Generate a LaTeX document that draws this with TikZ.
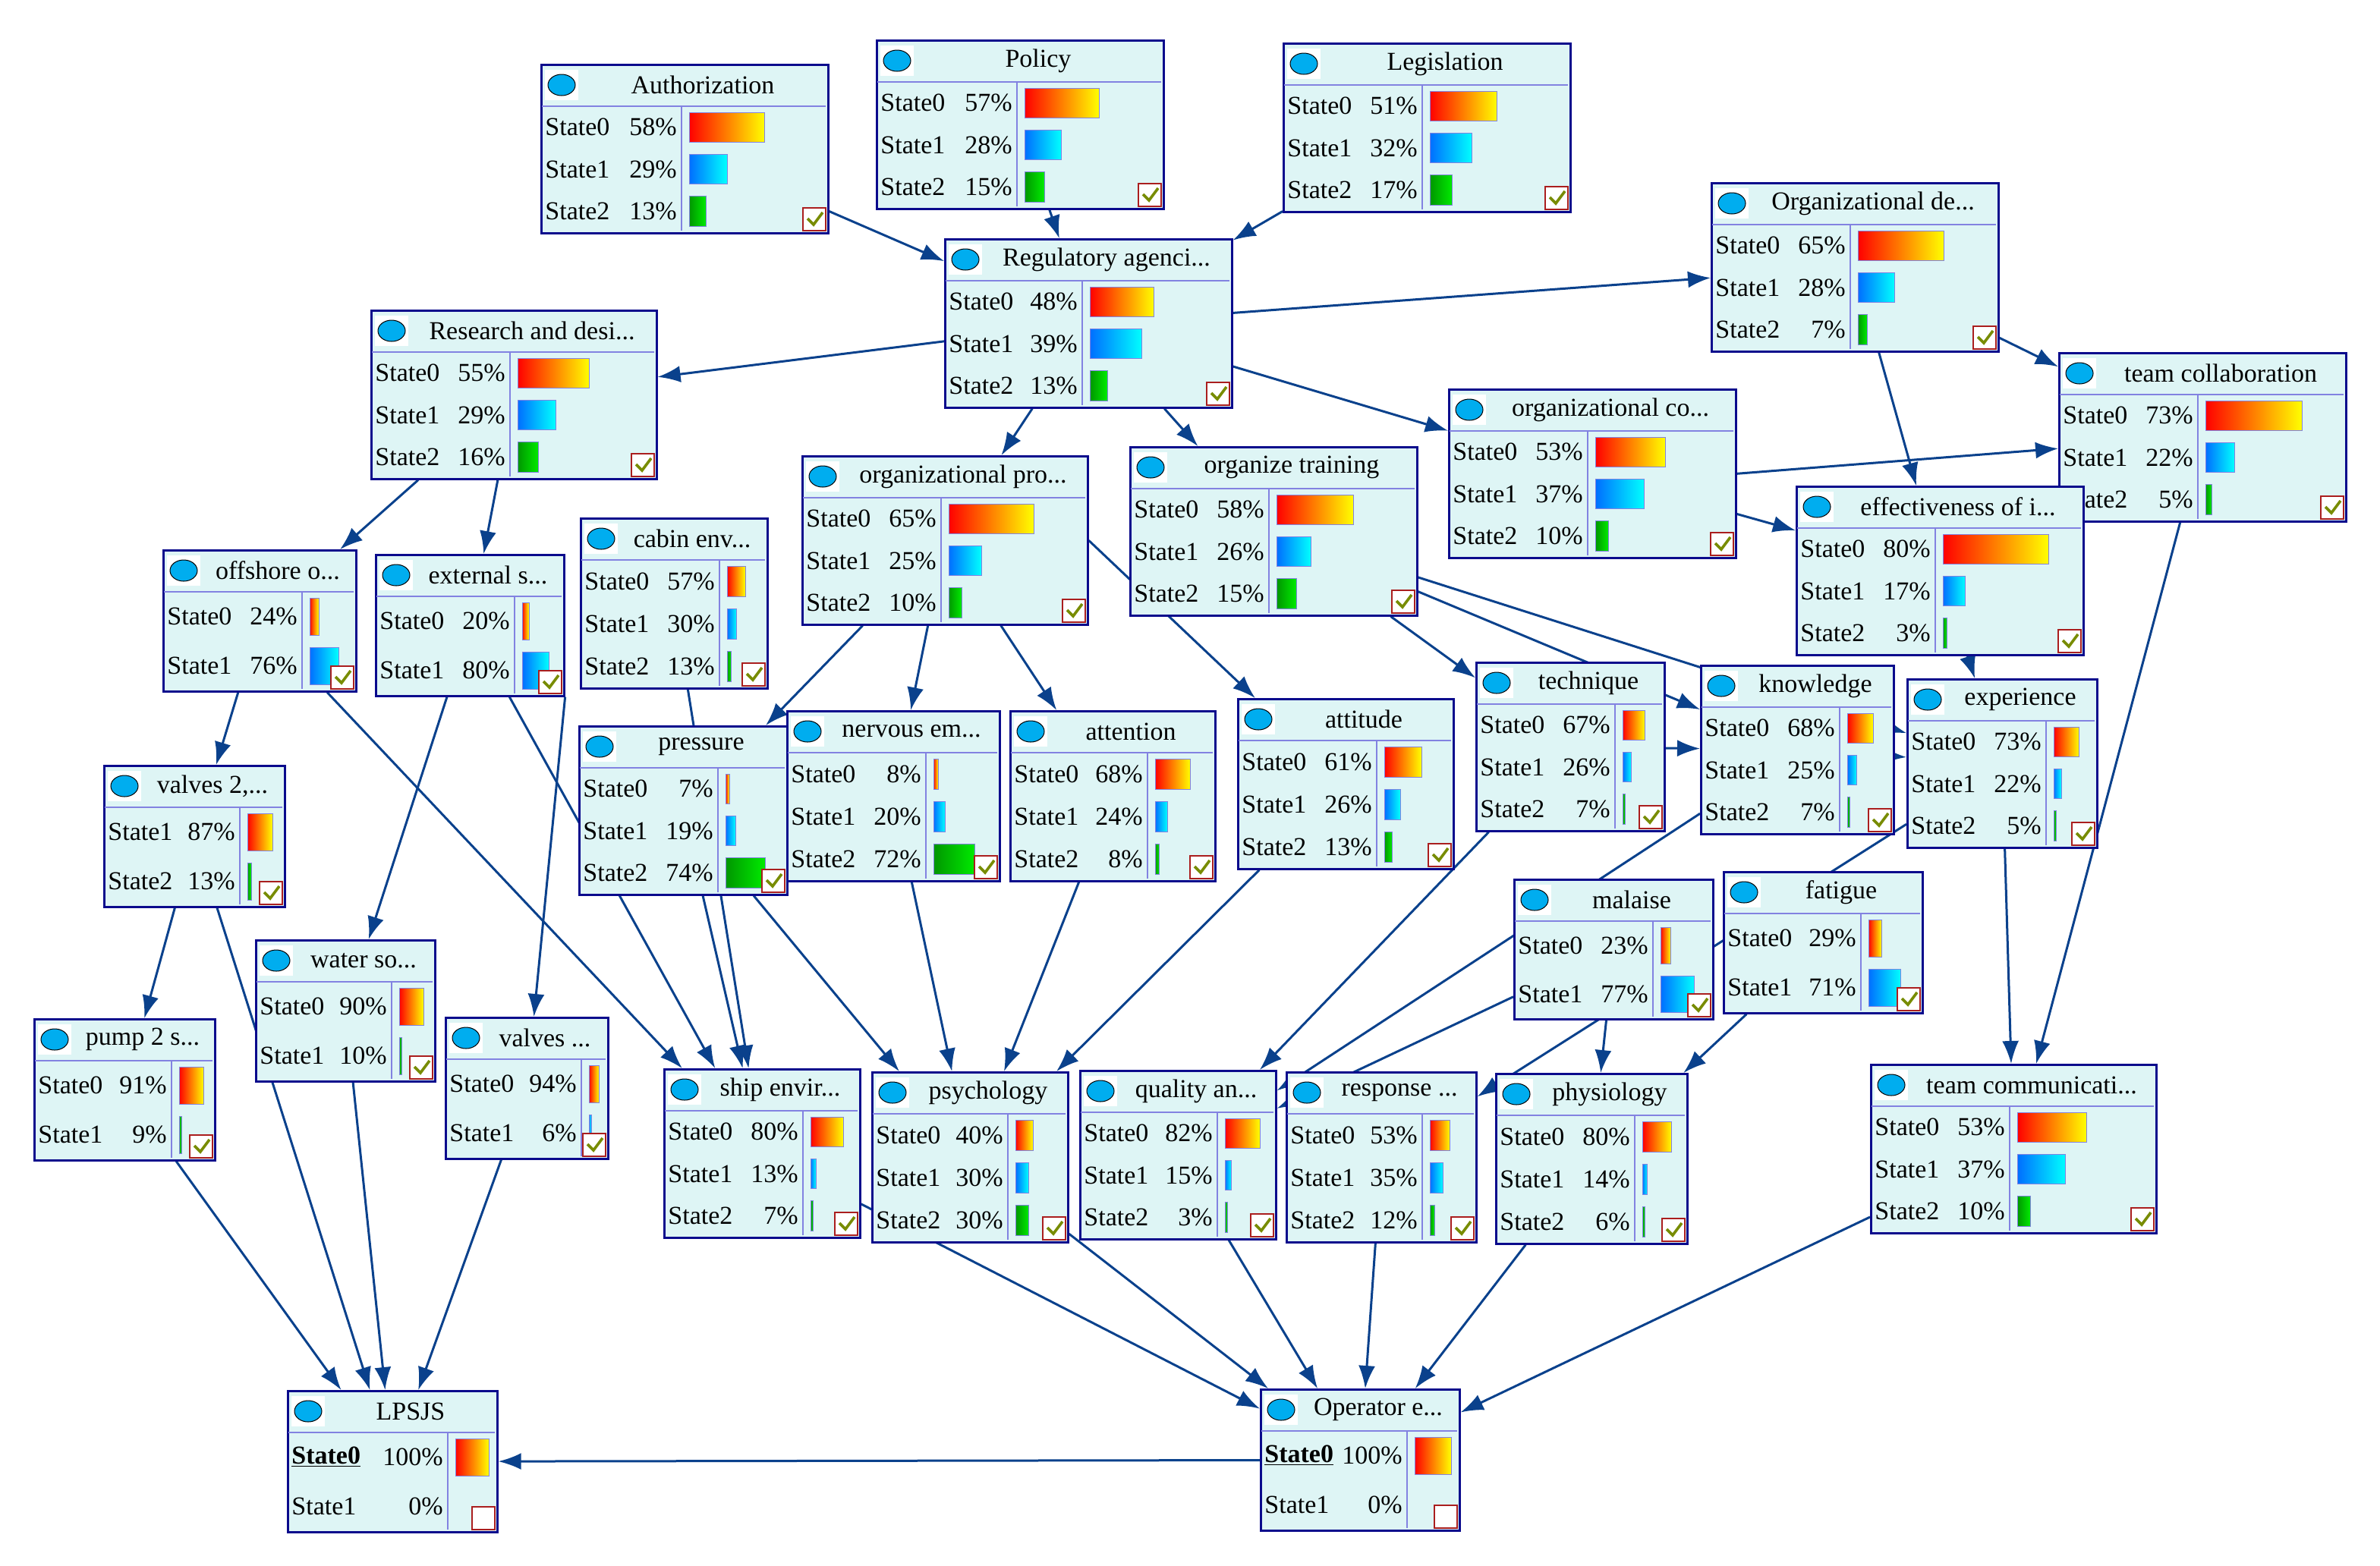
\documentclass[tikz,border=0pt]{standalone}
\usepackage{fontspec}
\setmainfont{Liberation Serif}
\usetikzlibrary{arrows.meta}
\pgfdeclarelayer{background}
\pgfsetlayers{background,main}
\definecolor{bg}{RGB}{222,245,245}
\definecolor{bd}{RGB}{10,10,140}
\definecolor{inn}{RGB}{130,130,225}
\definecolor{ec}{RGB}{10,65,140}
\definecolor{gA}{RGB}{0,150,0}
\definecolor{gB}{RGB}{0,235,0}
\definecolor{bA}{RGB}{0,110,255}
\definecolor{chk}{RGB}{120,140,0}
\definecolor{cbx}{RGB}{170,30,30}
\tikzset{
 box/.style={draw=bd,fill=bg,line width=1.3pt,inner sep=0pt},
 inner/.style={draw=inn,line width=0.6pt},
 ttl/.style={font=\fontsize{17}{19}\selectfont,inner sep=0pt},
 st/.style={font=\fontsize{17}{19}\selectfont,inner sep=0pt},
 bar0/.style={left color=red,right color=yellow,draw=inn,line width=0.3pt},
 bar1/.style={left color=bA,right color=cyan,draw=inn,line width=0.3pt},
 bar2/.style={left color=gA,right color=gB,draw=inn,line width=0.3pt},
 edge/.style={draw=ec,line width=1.5pt,-{Latex[length=15pt,width=11pt]}},
}
\newcommand\bn[9]{%
 \pgfmathsetmacro\W{#4-#2}\pgfmathsetmacro\H{#5-#3}%
 \node[box,minimum width=\W pt,minimum height=\H pt,anchor=north west] (#1) at (#2,#3) {};
 \draw[inner] (#2+1,#3+28) -- (#4-1,#3+28);
 \draw[inner] (#6,#3+28) -- (#6,#5-1);
 \fill[white] (#2+3,#3+4) rectangle (#2+25,#3+24);
 \filldraw[fill=cyan,draw=black,line width=0.5pt] (#2+14,#3+14) ellipse (9 and 7);
 \node[ttl] at ({(#2+25+#4)/2},#3+14) {#7};
 \def\N{0}\foreach \a in {#8}{\xdef\N{\the\numexpr\N+1}}%
 \pgfmathsetmacro\rh{(#5-#3-28)/\N}%
 \foreach[count=\i] \lab/\p/\cc in {#8}{%
  \pgfmathsetmacro\yc{#3+28+(\i-0.5)*\rh}%
  \node[st,anchor=west] at (#2+3,\yc) {\lab};
  \node[st,anchor=east] at (#6-3,\yc) {\p\%};
  \ifdim\p pt>0pt
   \pgfmathsetmacro\bw{max(\p/100*(#4-#6-10),1.5)}%
   \edef\xx{\noexpand\path[bar\cc]}\xx (#6+5,\yc-\rh/2+4) rectangle ++(\bw,\rh-8);
  \fi
 }
 \draw[draw=cbx,fill=white,line width=1pt] (#4-16,#5-16) rectangle (#4-1,#5-1);
 \ifnum#9=1 \draw[draw=chk,line width=1.8pt] (#4-13,#5-9) -- (#4-9,#5-5) -- (#4-3,#5-13);\fi
}
\begin{document}
\begin{tikzpicture}[x=1pt,y=-1pt]
\useasboundingbox (0,0) rectangle (1568,1031.5);
\bn{auth}{356}{42}{545}{153}{449}{Authorization}{State0/58/0,State1/29/1,State2/13/2}{1}
\bn{pol}{577}{26}{766}{137}{670}{Policy}{State0/57/0,State1/28/1,State2/15/2}{1}
\bn{leg}{845}{28}{1034}{139}{937}{Legislation}{State0/51/0,State1/32/1,State2/17/2}{1}
\bn{reg}{622}{157}{811}{268}{713}{Regulatory agenci...}{State0/48/0,State1/39/1,State2/13/2}{1}
\bn{orgde}{1127}{120}{1316}{231}{1219}{Organizational de...}{State0/65/0,State1/28/1,State2/7/2}{1}
\bn{rnd}{244}{204}{432}{315}{336}{Research and desi...}{State0/55/0,State1/29/1,State2/16/2}{1}
\bn{teamc}{1356}{232}{1545}{343}{1448}{team collaboration}{State0/73/0,State1/22/1,State2/5/2}{1}
\bn{orgco}{954}{256}{1143}{367}{1046}{organizational co...}{State0/53/0,State1/37/1,State2/10/2}{1}
\bn{orgpro}{528}{300}{716}{411}{620}{organizational pro...}{State0/65/0,State1/25/1,State2/10/2}{1}
\bn{train}{744}{294}{933}{405}{836}{organize training}{State0/58/0,State1/26/1,State2/15/2}{1}
\bn{eff}{1183}{320}{1372}{431}{1275}{effectiveness of i...}{State0/80/0,State1/17/1,State2/3/2}{1}
\bn{offs}{107}{362}{234}{455}{199}{offshore o...}{State0/24/0,State1/76/1}{1}
\bn{ext}{247}{365}{371}{458}{339}{external s...}{State0/20/0,State1/80/1}{1}
\bn{cabin}{382}{341}{505}{453}{474}{cabin env...}{State0/57/0,State1/30/1,State2/13/2}{1}
\bn{press}{381}{478}{518}{589}{473}{pressure}{State0/7/0,State1/19/1,State2/74/2}{1}
\bn{nerv}{518}{468}{658}{580}{610}{nervous em...}{State0/8/0,State1/20/1,State2/72/2}{1}
\bn{att}{665}{468}{800}{580}{756}{attention}{State0/68/0,State1/24/1,State2/8/2}{1}
\bn{attd}{815}{460}{957}{572}{907}{attitude}{State0/61/0,State1/26/1,State2/13/2}{1}
\bn{tech}{972}{436}{1096}{547}{1064}{technique}{State0/67/0,State1/26/1,State2/7/2}{1}
\bn{know}{1120}{438}{1247}{549}{1212}{knowledge}{State0/68/0,State1/25/1,State2/7/2}{1}
\bn{exp}{1256}{447}{1381}{558}{1348}{experience}{State0/73/0,State1/22/1,State2/5/2}{1}
\bn{valv2}{68}{504}{187}{597}{158}{valves 2,...}{State1/87/0,State2/13/2}{1}
\bn{water}{168}{619}{286}{712}{258}{water so...}{State0/90/0,State1/10/2}{1}
\bn{valv}{293}{670}{400}{763}{383}{valves ...}{State0/94/0,State1/6/1}{1}
\bn{pump}{22}{671}{141}{764}{113}{pump 2 s...}{State0/91/0,State1/9/2}{1}
\bn{mal}{997}{579}{1128}{671}{1089}{malaise}{State0/23/0,State1/77/1}{1}
\bn{fat}{1135}{574}{1266}{667}{1226}{fatigue}{State0/29/0,State1/71/1}{1}
\bn{ship}{437}{704}{566}{815}{529}{ship envir...}{State0/80/0,State1/13/1,State2/7/2}{1}
\bn{psy}{574}{706}{703}{818}{664}{psychology}{State0/40/0,State1/30/1,State2/30/2}{1}
\bn{qual}{711}{705}{840}{816}{802}{quality an...}{State0/82/0,State1/15/1,State2/3/2}{1}
\bn{resp}{847}{706}{972}{818}{937}{response ...}{State0/53/0,State1/35/1,State2/12/2}{1}
\bn{phys}{985}{707}{1111}{819}{1077}{physiology}{State0/80/0,State1/14/1,State2/6/2}{1}
\bn{tcomm}{1232}{701}{1420}{812}{1324}{team communicati...}{State0/53/0,State1/37/1,State2/10/2}{1}
\bn{lps}{189}{916}{327}{1009}{295}{LPSJS}{\textbf{\underline{State0}}/100/0,State1/0/0}{0}
\bn{oper}{830}{915}{961}{1008}{927}{Operator e...}{\textbf{\underline{State0}}/100/0,State1/0/0}{0}
\begin{pgfonlayer}{background}
\draw[edge] (auth) -- (reg);
\draw[edge] (pol) -- (reg);
\draw[edge] (leg) -- (reg);
\draw[edge] (reg) -- (rnd);
\draw[edge] (reg) -- (orgde);
\draw[edge] (reg) -- (orgco);
\draw[edge] (reg) -- (orgpro);
\draw[edge] (reg) -- (train);
\draw[edge] (orgde) -- (teamc);
\draw[edge] (orgde) -- (eff);
\draw[edge] (orgco.east) -- (teamc);
\draw[edge] (orgco) -- (eff);
\draw[edge] (rnd) -- (offs);
\draw[edge] (rnd) -- (ext);
\draw[edge] (offs) -- (valv2);
\draw[edge] (offs) -- (ship);
\draw[edge] (ext) -- (water);
\draw[edge] (ext.south east) -- (valv);
\draw[edge] (ext) -- (ship);
\draw[edge] (cabin) -- (ship);
\draw[edge] (press) -- (ship);
\draw[edge] (orgpro) -- (press);
\draw[edge] (orgpro) -- (nerv);
\draw[edge] (orgpro) -- (att);
\draw[edge] (orgpro.east) -- (attd);
\draw[edge] (train) -- (tech);
\draw[edge] (train) -- (know);
\draw[edge] (train) -- (exp);
\draw[edge] (tech) -- (know);
\draw[edge] (know) -- (exp);
\draw[edge] (eff) -- (exp);
\draw[edge] (teamc) -- (tcomm);
\draw[edge] (exp) -- (tcomm);
\draw[edge] (tech) -- (qual);
\draw[edge] (know) -- (qual);
\draw[edge] (mal) -- (qual);
\draw[edge] (exp) -- (resp);
\draw[edge] (mal) -- (phys);
\draw[edge] (fat) -- (phys);
\draw[edge] (press) -- (psy);
\draw[edge] (nerv) -- (psy);
\draw[edge] (att) -- (psy);
\draw[edge] (attd) -- (psy);
\draw[edge] (valv2) -- (pump);
\draw[edge] (valv2) -- (lps);
\draw[edge] (pump) -- (lps);
\draw[edge] (water) -- (lps);
\draw[edge] (valv) -- (lps);
\draw[edge] (oper) -- (lps);
\draw[edge] (ship) -- (oper);
\draw[edge] (psy) -- (oper);
\draw[edge] (qual) -- (oper);
\draw[edge] (resp) -- (oper);
\draw[edge] (phys) -- (oper);
\draw[edge] (tcomm) -- (oper);
\end{pgfonlayer}
\end{tikzpicture}
\end{document}
